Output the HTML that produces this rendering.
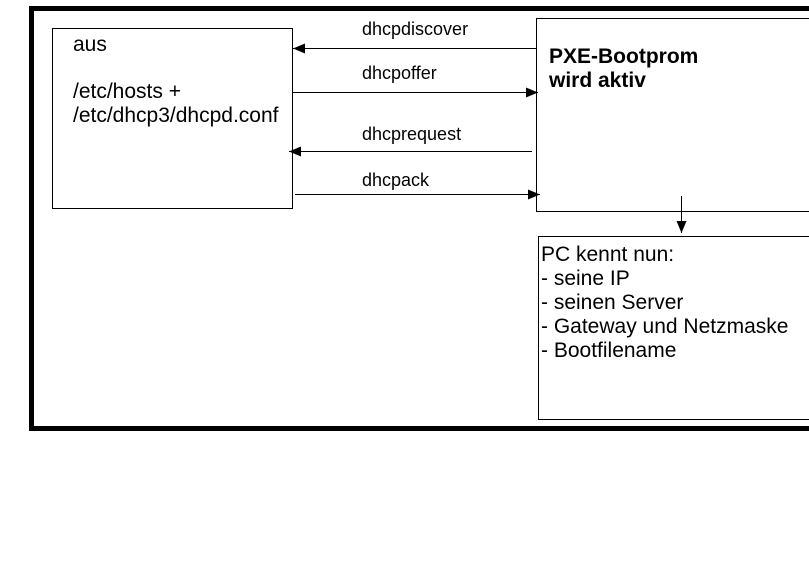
<!DOCTYPE html>
<html><head><style>
body{margin:0;width:809px;height:561px;background:#fff;overflow:hidden;position:relative;font-family:"Liberation Sans",sans-serif;}
.t{position:absolute;white-space:nowrap;color:#000;}
.l{font-size:18px;line-height:20px;}
.b{font-size:21px;line-height:24px;}
</style></head><body>
<svg width="809" height="561" style="position:absolute;left:0;top:0">
<defs><marker id="a" markerWidth="12" markerHeight="10" refX="12" refY="5" orient="auto" markerUnits="userSpaceOnUse"><path d="M0,0 L12,5 L0,10 z" fill="#000"/></marker></defs>
<rect x="31.5" y="8.5" width="790" height="420" fill="none" stroke="#000" stroke-width="5"/>
<rect x="52.5" y="28.5" width="240" height="180" fill="none" stroke="#000"/>
<rect x="536.5" y="18.5" width="290" height="193" fill="none" stroke="#000"/>
<rect x="538.5" y="236.5" width="290" height="183" fill="none" stroke="#000"/>
<g stroke="#000" stroke-width="1">
<line x1="536" y1="48.5" x2="293" y2="48.5" marker-end="url(#a)"/>
<line x1="293" y1="92.5" x2="538" y2="92.5" marker-end="url(#a)"/>
<line x1="532" y1="151.5" x2="289" y2="151.5" marker-end="url(#a)"/>
<line x1="295" y1="194.5" x2="540" y2="194.5" marker-end="url(#a)"/>
<line x1="681.5" y1="196" x2="681.5" y2="233" marker-end="url(#a)"/>
</g>
</svg>
<div class="t b" style="left:73px;top:33px">aus</div>
<div class="t b" style="left:73px;top:80px">/etc/hosts +<br>/etc/dhcp3/dhcpd.conf</div>
<div class="t l" style="left:362px;top:19px">dhcpdiscover</div>
<div class="t l" style="left:362px;top:63px">dhcpoffer</div>
<div class="t l" style="left:362px;top:124px">dhcprequest</div>
<div class="t l" style="left:362px;top:170px">dhcpack</div>
<div class="t b" style="left:549px;top:45px;font-weight:bold">PXE-Bootprom<br>wird aktiv</div>
<div class="t b" style="left:541px;top:243px">PC kennt nun:<br>- seine IP<br>- seinen Server<br>- Gateway und Netzmaske<br>- Bootfilename</div>
</body></html>
